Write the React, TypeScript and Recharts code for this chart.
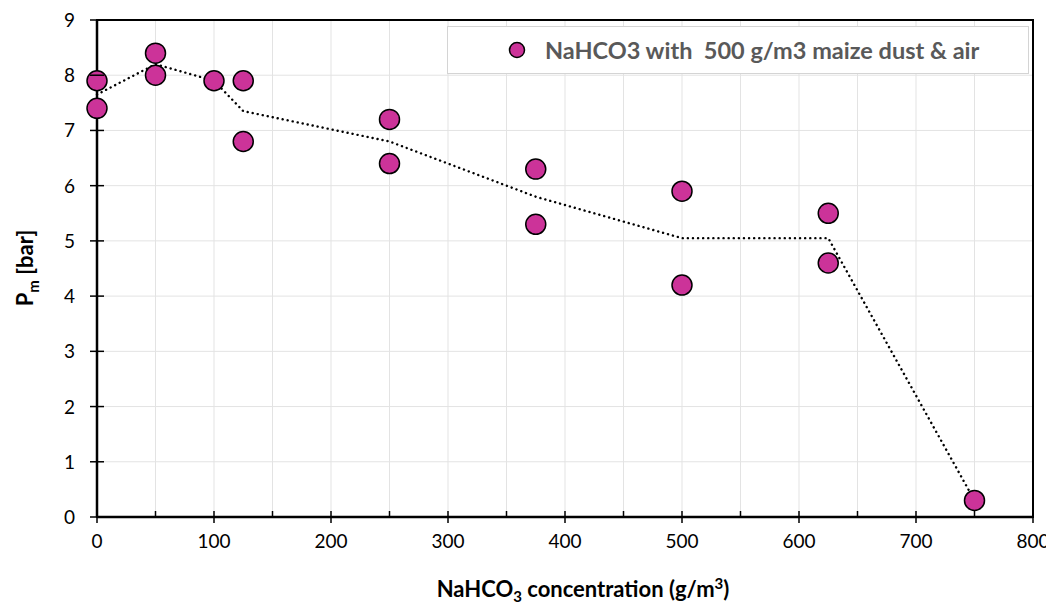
import { ComposedChart, XAxis, YAxis, CartesianGrid, Scatter, Line, ReferenceArea } from 'recharts';

// measured points: NaHCO3 concentration (g/m3) vs Pm (bar)
const concentrations = [0, 0, 50, 50, 100, 125, 125, 250, 250, 375, 375, 500, 500, 625, 625, 750];
const pressures = [7.9, 7.4, 8.4, 8.0, 7.9, 7.9, 6.8, 7.2, 6.4, 6.3, 5.3, 5.9, 4.2, 5.5, 4.6, 0.3];

// dotted trend line (mean per concentration)
const trendX = [0, 50, 100, 125, 250, 375, 500, 625, 750];
const trendY = [7.65, 8.2, 7.9, 7.35, 6.8, 5.8, 5.05, 5.05, 0.3];

const xTicks = [0, 50, 100, 150, 200, 250, 300, 350, 400, 450, 500, 550, 600, 650, 700, 750, 800];
const yTicks = [0, 1, 2, 3, 4, 5, 6, 7, 8, 9];

const seriesName = 'NaHCO3 with  500 g/m3 maize dust & air';
const MARKER = '#CC3399';
const FONT = 'Lato, "Open Sans", sans-serif';

const points = concentrations.map((x, i) => ({ x, y: pressures[i] }));
const trend = trendX.map((x, i) => ({ x, y: trendY[i] }));

const XTick = (props: any) => {
  const { x, y, payload } = props;
  const major = payload.value % 100 === 0;
  return (
    <g>
      <line x1={x} x2={x} y1={y - 6} y2={major ? y + 6 : y} stroke="#000" strokeWidth={1.5} />
      {major && (
        <text x={x} y={y + 31} textAnchor="middle" fontSize={19} fontFamily={FONT} fill="#000">
          {payload.value}
        </text>
      )}
    </g>
  );
};

const YTick = (props: any) => {
  const { x, y, payload } = props;
  return (
    <g>
      <line x1={x - 7} x2={x + 7} y1={y} y2={y} stroke="#000" strokeWidth={1.5} />
      <text x={x - 22} y={y + 7} textAnchor="end" fontSize={19} fontFamily={FONT} fill="#000">
        {payload.value}
      </text>
    </g>
  );
};

const LegendBox = () => (
  <div
    style={{
      position: 'absolute',
      left: 447,
      top: 26,
      width: 582,
      height: 48,
      border: '1.5px solid #d4d4d4',
      background: '#fff',
      display: 'flex',
      alignItems: 'center',
      boxSizing: 'border-box',
      paddingLeft: 60,
      fontFamily: FONT,
      fontWeight: 'bold',
      fontSize: 23.5,
      color: '#595959',
      whiteSpace: 'pre',
    }}
  >
    <svg width={18} height={18} style={{ marginRight: 19 }}>
      <circle cx={9} cy={9} r={7.5} fill={MARKER} stroke="#000" strokeWidth={1.5} />
    </svg>
    {seriesName}
  </div>
);

export default function App() {
  return (
    <div style={{ position: 'relative', width: 1054, height: 608, margin: '-8px 0 0 -8px' }}>
      <ComposedChart width={1054} height={608} margin={{ top: 20, right: 21, bottom: 31, left: 37 }}>
        <CartesianGrid stroke="#e3e3e3" strokeWidth={1} />
        <XAxis
          type="number"
          dataKey="x"
          domain={[0, 800]}
          ticks={xTicks}
          interval={0}
          height={60}
          tickSize={0}
          tickMargin={0}
          tick={<XTick />}
          axisLine={{ stroke: '#000', strokeWidth: 2.5 }}
          label={{
            content: () => (
              <text x={583} y={597} textAnchor="middle" fontFamily={FONT} fontWeight="bold" fontSize={22} fill="#000">
                NaHCO
                <tspan fontSize={15} dy={5}>3</tspan>
                <tspan dy={-5}> concentration (g/m</tspan>
                <tspan fontSize={15} dy={-8}>3</tspan>
                <tspan dy={8}>)</tspan>
              </text>
            ),
          }}
        />
        <YAxis
          type="number"
          dataKey="y"
          domain={[0, 9]}
          ticks={yTicks}
          interval={0}
          width={60}
          tickSize={0}
          tickMargin={0}
          tick={<YTick />}
          axisLine={{ stroke: '#000', strokeWidth: 2.5 }}
          label={{
            content: () => (
              <text
                x={33}
                y={268}
                transform="rotate(-90 33 268)"
                textAnchor="middle"
                fontFamily={FONT}
                fontWeight="bold"
                fontSize={22}
                fill="#000"
              >
                P
                <tspan fontSize={15} dy={6}>m</tspan>
                <tspan dy={-6}> [bar]</tspan>
              </text>
            ),
          }}
        />
        <ReferenceArea x1={0} x2={800} y1={0} y2={9} fill="none" stroke="#000" strokeWidth={2} ifOverflow="visible" />
        <Line
          data={trend}
          dataKey="y"
          type="linear"
          stroke="#000"
          strokeWidth={2.4}
          strokeDasharray="0.1 5"
          strokeLinecap="round"
          dot={false}
          activeDot={false}
          legendType="none"
          isAnimationActive={false}
        />
        <Scatter
          name={seriesName}
          data={points}
          dataKey="y"
          fill={MARKER}
          stroke="#000"
          strokeWidth={1.5}
          shape={(p: any) => <circle cx={p.cx} cy={p.cy} r={10} fill={MARKER} stroke="#000" strokeWidth={1.5} />}
          isAnimationActive={false}
        />
      </ComposedChart>
      <LegendBox />
    </div>
  );
}
